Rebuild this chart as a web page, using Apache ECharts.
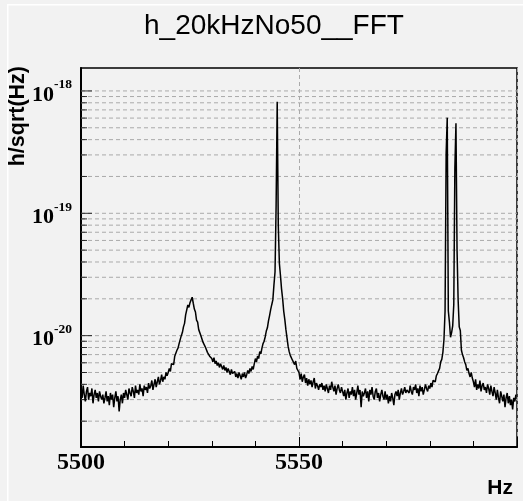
<!DOCTYPE html>
<html><head><meta charset="utf-8">
<script src="https://cdn.jsdelivr.net/npm/echarts@6/dist/echarts.min.js"></script>
<style>html,body{margin:0;padding:0;background:#f2f2f2}#c{width:523px;height:501px}</style>
</head><body><div id="c"></div>
<script>
const chartTitle = 'h_20kHzNo50__FFT';
const xAxisTitle = 'Hz';
const yAxisTitle = 'h/sqrt(Hz)';
const freqStartHz = 5500;
const binWidthHz = 0.25;
const xTickLabels = ['5500', '5550'];
const yDecadeExponents = [-20, -19, -18];
const yGridExponents = [-21, -20, -19, -18];
const yGridMultipliers = [1, 2, 3, 4, 5, 6, 7, 8, 9];
const ampUnit = 1e-21;
// amplitude in units of 1e-21 /sqrt(Hz), one value per 0.25 Hz bin
const amplitudeE21 = [
  3.6, 3.1, 3.9, 3.3, 2.9, 3.5, 3.8, 3.0, 3.4, 3.2, 3.7, 2.8, 3.3, 3.6, 3.1, 3.4, 2.9, 3.5, 3.2, 3.0,
  3.3, 2.8, 3.1, 3.5, 2.9, 3.2, 2.7, 3.4, 3.0, 3.3, 2.6, 3.1, 3.5, 2.9, 3.2, 2.4, 3.0, 3.3, 2.8, 3.4,
  3.1, 3.6, 3.3, 3.0, 3.7, 3.4, 3.2, 3.8, 3.5, 3.1, 3.9, 3.4, 3.6, 3.3, 4.0, 3.5, 3.7, 3.2, 3.9, 3.6,
  3.8, 3.4, 4.1, 3.7, 3.9, 4.3, 3.6, 4.0, 4.4, 3.8, 4.2, 4.6, 4.0, 4.3, 4.8, 4.2, 4.6, 4.4, 5.0, 4.7,
  5.0, 5.4, 5.1, 5.9, 6.1, 5.8, 6.8, 6.6, 7.6, 7.9, 8.6, 8.9, 10.0, 10.6, 11.8, 12.6, 14.8, 15.3, 17.8, 17.0,
  18.6, 19.6, 20.6, 18.4, 16.5, 15.6, 13.4, 12.9, 11.2, 11.0, 10.0, 9.8, 8.8, 8.9, 8.1, 8.0, 7.3, 7.4, 6.8, 6.9,
  6.5, 6.1, 6.6, 5.9, 6.2, 5.7, 6.0, 5.5, 5.9, 5.6, 5.3, 5.7, 5.2, 5.5, 5.0, 5.4, 5.1, 4.8, 5.3, 4.9,
  4.8, 5.1, 4.6, 4.9, 4.5, 5.0, 4.7, 4.4, 4.9, 4.6, 5.0, 4.5, 4.8, 5.2, 4.9, 5.4, 5.1, 5.6, 5.3, 5.9,
  6.5, 6.1, 6.8, 6.5, 7.4, 7.1, 7.9, 8.6, 9.0, 9.8, 10.9, 11.6, 13.2, 14.6, 16.3, 17.9, 19.6, 25.9, 33.1, 115,
  815, 80, 39, 31, 24, 20, 15.8, 13.5, 11.2, 9.6, 8.2, 7.4, 6.9, 7.1, 6.3, 6.5, 5.8, 6.2, 5.4, 5.6,
  5.0, 4.4, 4.9, 4.2, 4.6, 4.8, 4.1, 4.5, 3.9, 4.4, 4.0, 4.3, 3.8, 4.2, 4.5, 3.7, 4.1, 3.9, 3.6, 4.0,
  3.8, 4.1, 3.6, 3.9, 3.5, 4.0, 3.7, 3.4, 3.9, 3.6, 4.2, 3.8, 3.5, 3.9, 3.3, 3.7, 4.0, 3.6, 3.4, 3.8,
  3.5, 3.2, 3.6, 3.0, 3.4, 3.7, 3.1, 3.5, 3.3, 3.8, 3.2, 3.6, 3.0, 3.4, 3.9, 3.3, 3.6, 2.6, 3.5, 3.2,
  3.4, 3.7, 3.1, 3.5, 2.9, 3.6, 3.3, 3.8, 3.2, 3.0, 3.5, 3.7, 3.1, 3.4, 2.9, 3.3, 3.6, 3.2, 3.0, 3.5,
  3.0, 3.3, 2.8, 3.2, 2.9, 3.4, 3.1, 2.7, 3.3, 3.5, 3.2, 3.6, 3.0, 3.4, 3.7, 3.3, 3.5, 3.8, 3.4, 3.6,
  3.7, 3.4, 3.9, 3.5, 3.3, 3.8, 3.6, 4.0, 3.4, 3.7, 3.2, 3.9, 3.5, 3.8, 3.3, 3.6, 4.0, 3.7, 3.5, 3.9,
  3.7, 4.1, 3.8, 4.3, 4.4, 4.2, 4.7, 4.9, 5.0, 5.4, 6.1, 6.4, 7.3, 9.3, 15.8, 311, 605, 15.9, 12.9, 9.7,
  10.6, 12.0, 18.0, 234, 544, 50, 19.5, 11.8, 11.0, 7.6, 7.0, 6.6, 6.1, 5.8, 5.2, 5.4, 4.9, 4.6, 5.0, 4.5,
  4.2, 3.8, 4.4, 3.6, 4.0, 3.7, 4.3, 3.5, 3.9, 4.1, 3.6, 3.8, 3.4, 4.0, 3.7, 3.3, 3.9, 3.5, 3.2, 3.8,
  3.4, 3.0, 3.6, 3.1, 2.8, 3.5, 3.2, 2.9, 3.3, 2.6, 3.1, 3.4, 2.8, 3.2, 2.7, 3.0, 2.5, 3.1, 2.9, 3.3
];

const xMin = 5500, xMax = 5600;
const yMin = 1.23e-21, yMax = 1.54e-18;

const seriesData = amplitudeE21.map((u, i) => [freqStartHz + i * binWidthHz, u * ampUnit]);

const gridVals = [];
yGridExponents.forEach(e => yGridMultipliers.forEach(k => {
  const v = k * Math.pow(10, e);
  if (v >= yMin && v <= yMax) gridVals.push(v);
}));
const majorVals = yDecadeExponents.map(e => Math.pow(10, e));
const minorVals = gridVals.filter(v => majorVals.every(m => Math.abs(v / m - 1) > 1e-6));
const gridLineData = [];
gridVals.forEach(v => { gridLineData.push([xMin, v], [xMax, v], [xMax, '-']); });

const chart = echarts.init(document.getElementById('c'), null, {renderer: 'canvas'});
const serif = 'Liberation Serif';
const sans = 'Liberation Sans';
chart.setOption({
  animation: false,
  backgroundColor: '#f2f2f2',
  title: {
    text: chartTitle, left: 139, top: 7,
    textStyle: {fontFamily: sans, fontSize: 28, fontWeight: 'normal', color: '#000'}
  },
  graphic: [
    {type: 'rect', shape: {x: 7, y: 4, width: 516, height: 1.5}, style: {fill: '#ffffff'}, silent: true},
    {type: 'rect', shape: {x: 7, y: 4, width: 1.5, height: 497}, style: {fill: '#ffffff'}, silent: true},
    {type: 'text', x: 18, y: 66, rotation: Math.PI / 2,
     style: {text: yAxisTitle, fontFamily: sans, fontWeight: 'bold', fontSize: 21.5, fill: '#000', align: 'right', verticalAlign: 'middle'}}
  ],
  grid: {left: 81, right: 6, top: 68, bottom: 54, show: true, borderColor: '#000', borderWidth: 1.5, backgroundColor: 'transparent'},
  xAxis: {
    type: 'value', min: xMin, max: xMax, interval: 50,
    name: xAxisTitle, nameLocation: 'end', nameGap: -4,
    nameTextStyle: {fontFamily: sans, fontWeight: 'bold', fontSize: 21, color: '#000', align: 'right', verticalAlign: 'top', padding: [31, 0, 0, 0]},
    axisLine: {show: true, lineStyle: {color: '#000', width: 2}},
    axisTick: {show: true, inside: true, length: 10, lineStyle: {color: '#000', width: 1}},
    minorTick: {show: true, splitNumber: 5, length: 6, lineStyle: {color: '#000', width: 1}},
    splitLine: {show: true, lineStyle: {color: '#aaaaaa', type: [4, 3], width: 1}},
    axisLabel: {
      margin: 4, showMaxLabel: false,
      formatter: v => { const s = String(Math.round(v)); return xTickLabels.indexOf(s) >= 0 ? s : ''; },
      fontFamily: serif, fontWeight: 'bold', fontSize: 24, color: '#000'
    }
  },
  yAxis: {
    type: 'log', logBase: 10, min: yMin, max: yMax,
    axisLine: {show: true, lineStyle: {color: '#000', width: 2}},
    axisTick: {show: false},
    splitLine: {show: false},
    axisLabel: {
      margin: 9, showMinLabel: false, showMaxLabel: false,
      formatter: v => {
        const e = Math.log10(v);
        const r = Math.round(e);
        if (Math.abs(e - r) > 1e-6 || yDecadeExponents.indexOf(r) < 0) return '';
        return '{b|10}{s|' + r + '}';
      },
      rich: {
        b: {fontFamily: serif, fontWeight: 'bold', fontSize: 22, color: '#000', padding: [8, 0, 0, 0]},
        s: {fontFamily: serif, fontWeight: 'bold', fontSize: 13.5, color: '#000', padding: [2, 0, 14, 0]}
      }
    }
  },
  series: [
    {
      type: 'line', name: 'gridLines', z: 1, silent: true, showSymbol: false, symbol: 'none',
      connectNulls: false, data: gridLineData,
      lineStyle: {color: '#aaaaaa', type: [4, 3], width: 1}
    },
    {
      type: 'scatter', name: 'minorTicks', z: 4, clip: false, silent: true,
      data: minorVals.map(v => [xMin, v]), symbol: 'rect', symbolSize: [6, 1], symbolOffset: [3, 0],
      itemStyle: {color: '#000'}
    },
    {
      type: 'scatter', name: 'majorTicks', z: 4, clip: false, silent: true,
      data: majorVals.map(v => [xMin, v]), symbol: 'rect', symbolSize: [11, 1], symbolOffset: [5.5, 0],
      itemStyle: {color: '#000'}
    },
    {
      type: 'line', name: 'FFT', z: 3, data: seriesData, showSymbol: false, symbol: 'none',
      sampling: null, lineStyle: {color: '#000', width: 1.5}, silent: true
    }
  ]
});
</script></body></html>
